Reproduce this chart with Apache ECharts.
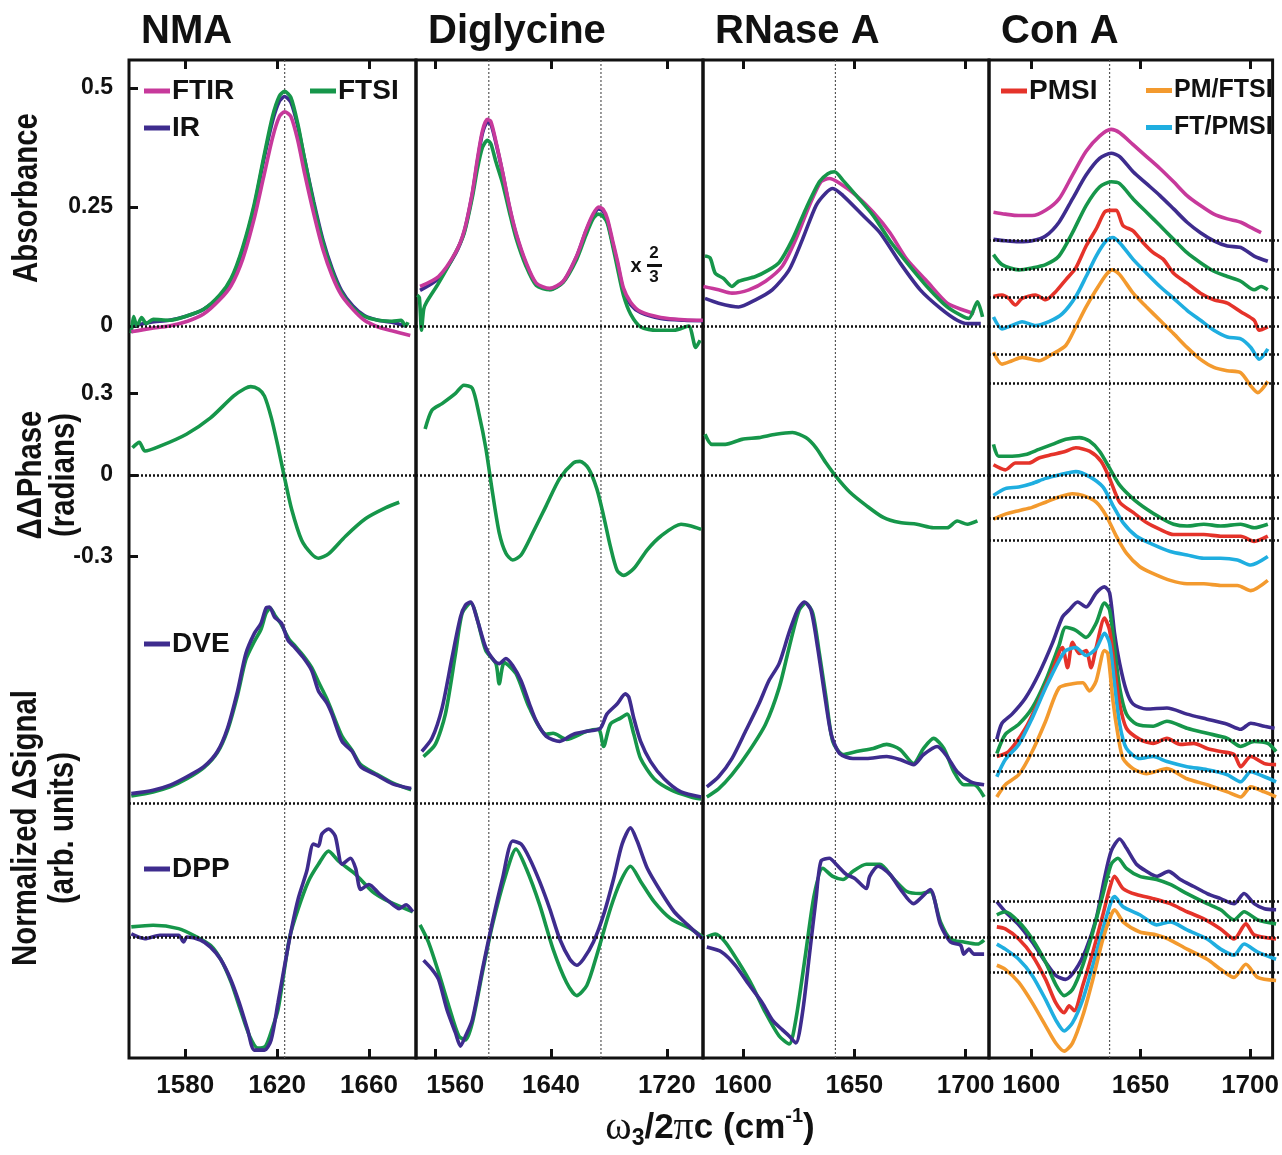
<!DOCTYPE html>
<html>
<head>
<meta charset="UTF-8" />
<title>Spectra comparison</title>
<script src="https://cdn.jsdelivr.net/npm/echarts@6.0.0/dist/echarts.min.js"></script>
<style>
  body { margin: 0; background: #fff; }
  #chart { width: 1282px; height: 1155px; }
</style>
</head>
<body>
<div id="chart"></div>
<script>
// ---------- data ----------
const columns = ['NMA', 'Diglycine', 'RNase A', 'Con A'];
const xRanges = [[1555.5, 1680.5], [1546.7, 1745], [1582, 1710.5], [1580.7, 1710.3]];
const xTicks = [[1580, 1620, 1660], [1560, 1640, 1720], [1600, 1650, 1700], [1600, 1650, 1700]];
const vLines = [[1623.3], [1597, 1674.5], [1641.5], [1635.8]];
const rowRanges = [[-0.15, 0.55], [-0.45, 0.5], [-0.2, 2.3], [-1.2, 1.2]];
const absTicks = [0, 0.25, 0.5];
const phaseTicks = [-0.3, 0, 0.3];

// NMA
const nmaAbsFtir = [[1556.5,-0.012],[1565,-0.005],[1573,0],[1581,0.01],[1588,0.025],[1595,0.055],[1600,0.085],[1605,0.14],[1610,0.225],[1614,0.31],[1618,0.395],[1621,0.44],[1623.3,0.45],[1626,0.44],[1629,0.39],[1632,0.32],[1636,0.235],[1640,0.16],[1644,0.105],[1648,0.065],[1653,0.035],[1658,0.012],[1664,-0.002],[1670,-0.01],[1678,-0.02]];
const nmaAbsIr = [[1557,0],[1565,0.008],[1573,0.012],[1580,0.02],[1588,0.035],[1595,0.062],[1600,0.097],[1605,0.16],[1610,0.25],[1614,0.345],[1618,0.43],[1621,0.472],[1623.3,0.482],[1626,0.47],[1629,0.42],[1632,0.35],[1636,0.26],[1640,0.18],[1644,0.12],[1648,0.075],[1653,0.042],[1658,0.022],[1664,0.012],[1670,0.008],[1676,0]];
const nmaAbsFtsi = [[1556.5,-0.015],[1557.5,0.02],[1559,0],[1561,0.018],[1563,0.005],[1566,0.014],[1573,0.012],[1580,0.02],[1588,0.035],[1595,0.065],[1600,0.1],[1605,0.165],[1610,0.255],[1614,0.35],[1618,0.44],[1621,0.483],[1623.3,0.493],[1626,0.48],[1629,0.425],[1632,0.35],[1636,0.255],[1640,0.175],[1644,0.115],[1648,0.07],[1653,0.038],[1658,0.02],[1664,0.012],[1670,0.01],[1674,0.012],[1676,0],[1677,0.008]];
const nmaPhase = [[1557,0.1],[1560,0.12],[1562.5,0.088],[1569,0.106],[1580.5,0.15],[1591,0.21],[1601,0.29],[1606,0.318],[1608.5,0.325],[1612,0.315],[1614.5,0.29],[1617.5,0.21],[1620.5,0.1],[1623.3,-0.012],[1626.3,-0.125],[1630.7,-0.24],[1635,-0.29],[1638,-0.306],[1642.4,-0.29],[1649.8,-0.225],[1658.6,-0.16],[1667.4,-0.12],[1673.2,-0.1]];
const nmaDve = [[1556.5,0.093],[1566,0.127],[1573.4,0.177],[1580.7,0.26],[1588.1,0.36],[1594,0.51],[1598.4,0.74],[1602.8,1.11],[1606.4,1.48],[1610.1,1.68],[1613,1.78],[1615.2,1.93],[1616.7,1.94],[1618.9,1.84],[1621.9,1.78],[1624.8,1.61],[1627.7,1.54],[1631.4,1.44],[1635.1,1.31],[1638,1.11],[1641.7,0.99],[1643.9,0.88],[1648.3,0.61],[1652.7,0.51],[1656.4,0.36],[1663,0.28],[1670.3,0.19],[1678.4,0.143]];
const nmaDveFtsi = [[1556.5,0.07],[1566,0.11],[1573.4,0.16],[1580.7,0.24],[1588.1,0.35],[1594,0.5],[1598.4,0.72],[1602.8,1.07],[1606.4,1.42],[1610.1,1.6],[1613,1.72],[1615.2,1.88],[1617,1.93],[1619,1.86],[1622,1.76],[1625,1.63],[1628,1.55],[1631.4,1.46],[1635.1,1.34],[1638,1.2],[1641.7,1.03],[1644,0.9],[1648.3,0.66],[1652.7,0.52],[1656.4,0.38],[1663,0.29],[1670.3,0.2],[1678.4,0.13]];
const nmaDpp = [[1556.5,0.03],[1562.4,-0.017],[1569,0.017],[1577.1,0.017],[1579.3,-0.05],[1580.7,0],[1586.6,-0.03],[1591,-0.1],[1595.4,-0.22],[1599.8,-0.42],[1603.5,-0.65],[1607.2,-0.92],[1610.1,-1.12],[1614.5,-1.12],[1617.4,-1.02],[1620.4,-0.65],[1623.3,-0.28],[1626.3,0.083],[1629.2,0.38],[1632.9,0.65],[1635.8,0.92],[1638,0.9],[1639.5,1.02],[1642.4,1.07],[1645.3,1.0],[1648.3,0.72],[1652,0.78],[1654.2,0.68],[1656.4,0.47],[1660,0.52],[1664.4,0.43],[1668.8,0.35],[1673.2,0.28],[1676.2,0.32],[1679.1,0.25]];
const nmaDppFtsi = [[1556.5,0.1],[1566,0.117],[1577.1,0.083],[1585.1,0],[1591,-0.083],[1595.4,-0.22],[1600,-0.45],[1604,-0.72],[1608,-0.98],[1611.6,-1.1],[1615,-1.08],[1618,-0.9],[1620.4,-0.72],[1623,-0.35],[1625.5,0],[1629.2,0.28],[1633.6,0.55],[1638,0.72],[1642.4,0.85],[1646.8,0.75],[1654.2,0.62],[1661.5,0.45],[1668.8,0.35],[1679.1,0.25]];

// Diglycine
const digAbsFtir = [[1549.5,0.083],[1562.3,0.104],[1574,0.154],[1580,0.2],[1585.6,0.28],[1589.1,0.35],[1592.6,0.41],[1596,0.434],[1598.4,0.43],[1601.9,0.388],[1606.5,0.324],[1611.2,0.253],[1615.8,0.196],[1622.8,0.133],[1629.8,0.09],[1639,0.079],[1648.4,0.094],[1657.7,0.147],[1664,0.2],[1669,0.235],[1673,0.25],[1676,0.245],[1679,0.225],[1682.5,0.18],[1686,0.135],[1690,0.08],[1695,0.05],[1702,0.03],[1715.8,0.018],[1732,0.013],[1744.9,0.012]];
const digAbsIr = [[1549.5,0.075],[1562.3,0.1],[1574,0.152],[1580,0.198],[1585.6,0.277],[1589.1,0.345],[1592.6,0.405],[1596,0.428],[1598.4,0.424],[1601.9,0.385],[1606.5,0.322],[1611.2,0.25],[1615.8,0.193],[1622.8,0.13],[1629.8,0.088],[1639,0.077],[1648.4,0.093],[1657.7,0.146],[1664,0.198],[1669,0.232],[1673,0.246],[1676,0.241],[1679,0.22],[1682.5,0.175],[1686,0.13],[1690,0.075],[1695,0.045],[1702,0.028],[1715.8,0.016],[1732,0.012],[1744.9,0.011]];
const digAbsFtsi = [[1547.5,0.065],[1549,0.06],[1550.5,-0.009],[1552,0.035],[1554,0.05],[1562.3,0.09],[1574,0.154],[1580,0.195],[1585.6,0.27],[1589.1,0.33],[1592.6,0.375],[1596,0.39],[1598.4,0.383],[1601.9,0.345],[1606.5,0.3],[1611.2,0.24],[1615.8,0.185],[1622.8,0.125],[1629.8,0.085],[1639,0.076],[1648.4,0.092],[1657.7,0.14],[1664,0.19],[1669,0.225],[1672.5,0.235],[1676,0.23],[1679,0.215],[1682.5,0.17],[1686,0.12],[1690,0.065],[1695,0.025],[1702,-0.002],[1713,-0.009],[1725,-0.009],[1735,0],[1740,-0.045],[1743,-0.03]];
const digPhase = [[1553,0.169],[1557.7,0.238],[1564.7,0.2625],[1574,0.3],[1579.8,0.33],[1585.6,0.319],[1590.2,0.225],[1594.9,0.1],[1599.5,-0.0625],[1604.2,-0.2125],[1608.8,-0.2875],[1613.5,-0.3125],[1619.3,-0.294],[1627.4,-0.2125],[1636.7,-0.1125],[1646,-0.0125],[1655.3,0.044],[1660,0.05],[1665.8,0.025],[1671.6,-0.05],[1676.3,-0.15],[1681,-0.2625],[1685.6,-0.35],[1690.2,-0.369],[1697.2,-0.344],[1706.5,-0.275],[1715.8,-0.225],[1729.8,-0.181],[1736.7,-0.1875],[1743.7,-0.2]];
const digDve = [[1550.7,0.51],[1557.7,0.64],[1564.7,0.94],[1571.6,1.44],[1577.4,1.84],[1580.9,1.96],[1584.4,1.99],[1589.1,1.81],[1594.9,1.54],[1600.7,1.41],[1604.2,1.38],[1608.8,1.43],[1613.5,1.36],[1619.3,1.21],[1625.1,0.98],[1629.8,0.81],[1636.7,0.66],[1646,0.61],[1655.3,0.68],[1664.7,0.71],[1674,0.74],[1678.6,0.88],[1685.6,0.98],[1691.4,1.08],[1693.7,1.05],[1697.2,0.84],[1701.9,0.61],[1708.8,0.41],[1718.1,0.24],[1729.8,0.11],[1743.7,0.06]];
const digDveFtsi = [[1551.9,0.46],[1560,0.58],[1567,0.88],[1574,1.48],[1578.6,1.88],[1584.4,1.98],[1594.9,1.51],[1601.9,1.38],[1604.2,1.18],[1607.7,1.39],[1615.8,1.28],[1625.1,0.94],[1636.7,0.68],[1641.4,0.69],[1650.7,0.63],[1664.7,0.71],[1672.8,0.73],[1676.3,0.56],[1681,0.78],[1688,0.84],[1692.6,0.88],[1697.2,0.68],[1701.9,0.44],[1711.2,0.24],[1722.8,0.13],[1736.7,0.06],[1743.7,0.04]];
const digDpp = [[1551.9,-0.23],[1557.7,-0.32],[1562.3,-0.42],[1568.1,-0.72],[1574,-0.95],[1577.4,-1.08],[1580.9,-0.98],[1585.6,-0.82],[1592.6,-0.32],[1599.5,0.15],[1606.5,0.58],[1613.5,0.95],[1619.3,0.92],[1625.1,0.78],[1632.1,0.55],[1639.1,0.28],[1646,-0.02],[1653,-0.22],[1657.7,-0.28],[1662.3,-0.22],[1669.3,-0.05],[1676.3,0.22],[1683.3,0.58],[1689.1,0.92],[1694.9,1.08],[1699.5,0.95],[1706.5,0.68],[1715.8,0.45],[1725.1,0.25],[1734.4,0.12],[1744.9,-0.02]];
const digDppFtsi = [[1549.5,0.12],[1555.3,-0.05],[1562.3,-0.35],[1569.3,-0.68],[1576.3,-0.98],[1580.9,-1.02],[1585.6,-0.85],[1592.6,-0.35],[1599.5,0.12],[1608.8,0.62],[1615.8,0.87],[1622.8,0.68],[1632.1,0.32],[1641.4,-0.12],[1650.7,-0.45],[1657.7,-0.58],[1664.7,-0.48],[1671.6,-0.18],[1681,0.28],[1688,0.55],[1694.9,0.7],[1701.9,0.55],[1711.2,0.35],[1722.8,0.18],[1736.7,0.08],[1744.9,0]];

// RNase A
const rnaAbsFtir = [[1582.2,0.083],[1589,0.076],[1595,0.069],[1602.6,0.076],[1610.1,0.094],[1617.7,0.126],[1623.7,0.182],[1629.8,0.253],[1635,0.303],[1638.8,0.31],[1643.4,0.3],[1650.9,0.274],[1658.5,0.239],[1666,0.196],[1673.6,0.14],[1682.6,0.094],[1691.7,0.048],[1699.2,0.033],[1703.8,0.026]];
const rnaAbsIr = [[1582.9,0.058],[1589,0.048],[1598,0.04],[1605.6,0.055],[1613.1,0.076],[1620.7,0.118],[1626.7,0.182],[1632.8,0.253],[1637.3,0.28],[1640.3,0.289],[1644.9,0.274],[1653.9,0.232],[1661.5,0.196],[1670.5,0.133],[1679.6,0.076],[1688.7,0.037],[1696.2,0.012],[1700.8,0.005],[1706.8,0.005]];
const rnaAbsFtsi = [[1582.9,0.147],[1585.2,0.143],[1587.5,0.111],[1591.2,0.1],[1595,0.083],[1598,0.094],[1605.6,0.104],[1611.6,0.118],[1616.2,0.133],[1622.2,0.182],[1628.2,0.246],[1634.3,0.303],[1638.1,0.32],[1641.1,0.324],[1644.9,0.306],[1650.9,0.274],[1658.5,0.232],[1666,0.179],[1673.6,0.133],[1682.6,0.083],[1691.7,0.04],[1699.2,0.019],[1701.5,0.016],[1705.3,0.051],[1707.6,0.019]];
const rnaPhase = [[1582.9,0.15],[1586,0.1125],[1592,0.1125],[1599.5,0.131],[1607.1,0.1375],[1614.7,0.15],[1622.2,0.156],[1628.2,0.1375],[1632.8,0.1],[1637.3,0.044],[1641.8,-0.006],[1647.9,-0.0625],[1655.4,-0.1125],[1663,-0.156],[1670.5,-0.175],[1678.1,-0.181],[1685.6,-0.194],[1691.7,-0.194],[1696.2,-0.169],[1700.8,-0.181],[1705.3,-0.169]];
const rnaDve = [[1583.7,0.16],[1589,0.26],[1595,0.44],[1601.1,0.71],[1607.1,0.98],[1611.6,1.21],[1616.2,1.38],[1620.7,1.69],[1624.5,1.91],[1627.5,1.99],[1630.5,1.91],[1633.5,1.54],[1636.6,1.08],[1639.6,0.68],[1643.4,0.49],[1649.4,0.44],[1655.4,0.44],[1664.5,0.46],[1670.5,0.43],[1676.6,0.38],[1681.1,0.48],[1687.2,0.56],[1691.7,0.46],[1696.2,0.31],[1702.3,0.21],[1708.3,0.18]];
const rnaDveFtsi = [[1583.7,0.06],[1589,0.14],[1595,0.28],[1602.6,0.51],[1610.1,0.78],[1616.2,1.14],[1620.7,1.54],[1625.2,1.91],[1628.2,1.98],[1631.3,1.88],[1634.3,1.48],[1637.3,1.04],[1640.3,0.61],[1644.9,0.48],[1650.9,0.51],[1658.5,0.54],[1664.5,0.58],[1670.5,0.53],[1676.6,0.39],[1681.1,0.54],[1685.6,0.64],[1690.2,0.54],[1694.7,0.31],[1699.2,0.18],[1703.8,0.18],[1708.3,0.06]];
const rnaDpp = [[1583.7,-0.1],[1590.5,-0.15],[1596.5,-0.28],[1602.6,-0.47],[1608.6,-0.65],[1613.1,-0.82],[1617.7,-0.92],[1620.7,-0.98],[1623.7,-1.05],[1626.7,-0.75],[1629.8,-0.18],[1632.8,0.38],[1635,0.75],[1638.8,0.78],[1641.8,0.72],[1646.4,0.62],[1650.2,0.58],[1655.4,0.48],[1656.9,0.6],[1660.7,0.7],[1666,0.62],[1670.5,0.48],[1676.6,0.33],[1679.6,0.38],[1684.1,0.47],[1688.7,0.12],[1693.2,-0.05],[1697.7,-0.08],[1699.2,-0.17],[1701.5,-0.12],[1703.8,-0.17],[1708.3,-0.17]];
const rnaDppFtsi = [[1583.7,0],[1587.5,0.03],[1592,-0.05],[1598,-0.25],[1604.1,-0.48],[1610.1,-0.75],[1616.2,-0.98],[1620.7,-1.06],[1623.7,-0.82],[1628.2,-0.15],[1632,0.42],[1635.8,0.68],[1640.3,0.6],[1644.9,0.57],[1649.4,0.65],[1655.4,0.72],[1661.5,0.72],[1667.5,0.58],[1673.6,0.45],[1679.6,0.43],[1684.1,0.45],[1688.7,0.15],[1693.2,-0.02],[1699.2,-0.05],[1705.3,-0.07],[1708.3,-0.03]];

// Con A (curves offset, dotted baselines below)
const conAbsFtir = [[1582.7,0.239],[1588,0.235],[1594,0.232],[1600,0.232],[1606,0.243],[1612,0.267],[1618,0.317],[1624.1,0.367],[1630.1,0.399],[1635.3,0.413],[1639.1,0.406],[1645.1,0.381],[1651.1,0.356],[1657.1,0.331],[1663.2,0.303],[1669.2,0.274],[1675.2,0.253],[1681.2,0.235],[1687.2,0.225],[1693.2,0.218],[1697.7,0.207],[1702.3,0.196]];
const conAbsIr = [[1582.7,0.182],[1588,0.179],[1594,0.177],[1600,0.179],[1606,0.189],[1612,0.218],[1618,0.267],[1624.1,0.317],[1630.1,0.352],[1635.3,0.363],[1639.1,0.356],[1645.1,0.324],[1651.1,0.299],[1657.1,0.274],[1663.2,0.246],[1669.2,0.218],[1675.2,0.196],[1681.2,0.179],[1687.2,0.168],[1693.2,0.165],[1699.2,0.147],[1705.3,0.136]];
const conAbsFtsi = [[1582.7,0.15],[1586.5,0.129],[1594,0.118],[1600,0.122],[1606,0.129],[1612,0.147],[1618,0.196],[1624.1,0.253],[1630.1,0.292],[1635.3,0.303],[1639.1,0.299],[1645.1,0.267],[1651.1,0.239],[1657.1,0.211],[1663.2,0.182],[1669.2,0.154],[1675.2,0.133],[1681.2,0.115],[1687.2,0.104],[1693.2,0.094],[1699.2,0.076],[1702.3,0.083],[1705.3,0.076]];
const conAbsPmsi = [[1582.7,0.062],[1586.5,0.065],[1589.5,0.058],[1592.5,0.044],[1595.5,0.058],[1601.5,0.065],[1606,0.055],[1610.5,0.072],[1615,0.097],[1619.5,0.122],[1624.1,0.168],[1628.6,0.204],[1632.3,0.239],[1634.6,0.243],[1637.6,0.243],[1640.6,0.211],[1645.1,0.2],[1649.6,0.175],[1654.1,0.154],[1658.6,0.14],[1663.2,0.111],[1669.2,0.09],[1675.2,0.069],[1681.2,0.055],[1687.2,0.048],[1693.2,0.03],[1699.2,0.012],[1701.5,-0.009],[1705.3,-0.002]];
const conAbsFtPm = [[1582.7,0.019],[1586.5,-0.006],[1591,0.001],[1595.5,0.009],[1601.5,0.001],[1607.5,0.009],[1613.5,0.026],[1619.5,0.062],[1624.1,0.104],[1628.6,0.147],[1633.1,0.179],[1636.1,0.186],[1639.1,0.175],[1645.1,0.14],[1651.1,0.111],[1657.1,0.083],[1663.2,0.058],[1669.2,0.033],[1675.2,0.012],[1681.2,-0.009],[1687.2,-0.023],[1693.2,-0.027],[1697.7,-0.045],[1701.5,-0.07],[1705.3,-0.048]];
const conAbsPmFt = [[1582.7,-0.055],[1586.5,-0.08],[1591,-0.073],[1595.5,-0.066],[1603,-0.073],[1609,-0.059],[1615,-0.041],[1619.5,-0.002],[1624.1,0.04],[1628.6,0.076],[1633.1,0.108],[1635.8,0.118],[1639.1,0.108],[1645.1,0.069],[1651.1,0.04],[1657.1,0.012],[1663.2,-0.016],[1669.2,-0.045],[1675.2,-0.07],[1681.2,-0.087],[1687.2,-0.094],[1693.2,-0.098],[1697.7,-0.126],[1700.8,-0.14],[1705.3,-0.116]];
const conPhaseFtsi = [[1582.7,0.1125],[1585,0.069],[1591,0.069],[1597,0.075],[1603,0.094],[1609,0.1125],[1615,0.131],[1621.1,0.1375],[1625.6,0.125],[1630.1,0.0875],[1634.6,0.025],[1639.1,-0.0375],[1645.1,-0.0875],[1651.1,-0.125],[1657.1,-0.156],[1663.2,-0.181],[1669.2,-0.1875],[1676.7,-0.181],[1684.2,-0.1875],[1693.2,-0.181],[1699.2,-0.194],[1705.3,-0.181]];
const conPhasePmsi = [[1582.7,0.0375],[1588,0.019],[1592.5,0.044],[1598.5,0.044],[1603,0.0625],[1609,0.075],[1615,0.0875],[1619.5,0.1],[1625.6,0.0875],[1630.8,0.05],[1634.6,-0.0125],[1639.1,-0.1],[1645.1,-0.1375],[1651.1,-0.175],[1657.1,-0.2],[1663.2,-0.219],[1669.2,-0.219],[1676.7,-0.219],[1684.2,-0.225],[1693.2,-0.225],[1699.2,-0.244],[1705.3,-0.225]];
const conPhaseFtPm = [[1582.7,-0.075],[1588,-0.05],[1594,-0.044],[1600,-0.031],[1606,-0.0125],[1612,0],[1619.5,0.0125],[1625.6,-0.006],[1631.6,-0.044],[1636.1,-0.1125],[1640.6,-0.175],[1646.6,-0.225],[1654.1,-0.256],[1661.7,-0.281],[1669.2,-0.294],[1676.7,-0.306],[1684.2,-0.306],[1691.7,-0.3125],[1697.7,-0.331],[1705.3,-0.3]];
const conPhasePmFt = [[1582.7,-0.1625],[1588,-0.144],[1594,-0.131],[1600,-0.119],[1606,-0.1],[1612,-0.081],[1618,-0.069],[1622.6,-0.075],[1628.6,-0.1],[1633.1,-0.15],[1637.6,-0.225],[1642.1,-0.2875],[1648.1,-0.3375],[1654.1,-0.3625],[1661.7,-0.3875],[1669.2,-0.4],[1676.7,-0.4],[1684.2,-0.406],[1691.7,-0.406],[1697.7,-0.425],[1705.3,-0.3875]];
const conDve = [[1584.2,0.63],[1586.5,0.79],[1591,0.88],[1597,1.04],[1603,1.28],[1609,1.58],[1613.5,1.84],[1616.5,1.91],[1620.3,1.99],[1624.1,1.94],[1628.6,2.08],[1632.3,2.14],[1634.6,2.08],[1636.8,1.68],[1639.1,1.38],[1642.1,1.11],[1645.1,0.98],[1651.1,0.93],[1660.2,0.94],[1669.2,0.88],[1678.2,0.83],[1687.2,0.78],[1693.2,0.73],[1697.7,0.79],[1703.8,0.76],[1708.3,0.74]];
const conDveFtsi = [[1584.2,0.49],[1588,0.68],[1594,0.78],[1600,0.94],[1606,1.21],[1612,1.56],[1615,1.74],[1619.5,1.71],[1624.1,1.64],[1628.6,1.78],[1632.3,1.98],[1634.6,1.91],[1636.8,1.54],[1639.1,1.14],[1642.1,0.88],[1646.6,0.78],[1654.1,0.76],[1660.2,0.81],[1669.2,0.74],[1678.2,0.69],[1687.2,0.64],[1693.2,0.56],[1699.2,0.61],[1705.3,0.59],[1709,0.51]];
const conDvePmsi = [[1584.2,0.46],[1589.5,0.51],[1597,0.74],[1603,1.01],[1609,1.31],[1613.5,1.54],[1615.8,1.34],[1618,1.59],[1621.1,1.48],[1624.1,1.51],[1626.3,1.34],[1628.6,1.54],[1632.3,1.83],[1634.6,1.71],[1636.8,1.34],[1639.1,0.98],[1642.1,0.74],[1648.1,0.63],[1654.1,0.59],[1660.2,0.64],[1666.2,0.58],[1672.2,0.59],[1678.2,0.54],[1684.2,0.51],[1690.2,0.48],[1693.2,0.36],[1697.7,0.46],[1703.8,0.39],[1709,0.38]];
const conDveFtPm = [[1584.2,0.26],[1588,0.43],[1594,0.58],[1600,0.84],[1606,1.14],[1612,1.41],[1615,1.51],[1619.5,1.54],[1624.1,1.46],[1628.6,1.53],[1632.3,1.68],[1634.6,1.58],[1636.8,1.18],[1639.1,0.78],[1642.1,0.54],[1648.1,0.44],[1654.1,0.46],[1660.2,0.41],[1669.2,0.36],[1678.2,0.33],[1687.2,0.28],[1693.2,0.21],[1697.7,0.31],[1703.8,0.26],[1709,0.21]];
const conDvePmFt = [[1584.2,0.06],[1588,0.18],[1594,0.28],[1600,0.51],[1606,0.81],[1612,1.14],[1618,1.18],[1622.6,1.19],[1625.6,1.11],[1628.6,1.21],[1632.3,1.51],[1633.8,1.48],[1636.1,1.01],[1638.3,0.68],[1640.6,0.44],[1645.1,0.34],[1651.1,0.29],[1660.2,0.34],[1669.2,0.24],[1678.2,0.18],[1687.2,0.11],[1693.2,0.06],[1697.7,0.16],[1703.8,0.11],[1709,0.06]];
const conDpp = [[1584.2,0.35],[1588,0.25],[1594,0.12],[1600,-0.05],[1606,-0.25],[1610.5,-0.38],[1615,-0.42],[1619.5,-0.32],[1624.1,-0.12],[1628.6,0.18],[1632.3,0.58],[1635.3,0.85],[1639.1,0.97],[1642.1,0.88],[1646.6,0.72],[1651.1,0.65],[1655.6,0.6],[1660.9,0.65],[1666.2,0.57],[1672.2,0.5],[1678.2,0.43],[1684.2,0.38],[1690.2,0.33],[1694.7,0.43],[1699.2,0.33],[1703.8,0.28],[1709,0.27]];
const conDppFtsi = [[1584.2,0.22],[1588,0.25],[1594,0.15],[1600,-0.02],[1606,-0.25],[1610.5,-0.47],[1614.3,-0.58],[1618,-0.52],[1622.6,-0.28],[1627.1,0.05],[1631.6,0.42],[1635.3,0.72],[1638.3,0.78],[1642.1,0.68],[1648.1,0.6],[1655.6,0.57],[1661.7,0.52],[1669.2,0.43],[1678.2,0.33],[1684.2,0.27],[1690.2,0.17],[1694.7,0.25],[1700.8,0.17],[1709,0.13]];
const conDppPmsi = [[1584.2,0.1],[1588,0.08],[1594,-0.02],[1600,-0.18],[1606,-0.42],[1610.5,-0.65],[1614.3,-0.75],[1616.5,-0.68],[1618.8,-0.73],[1622.6,-0.48],[1627.1,-0.15],[1631.6,0.22],[1634.6,0.48],[1636.8,0.6],[1640.6,0.48],[1646.6,0.42],[1654.1,0.38],[1661.7,0.33],[1669.2,0.25],[1676.7,0.18],[1684.2,0.08],[1690.2,-0.02],[1695.5,0.13],[1699.2,0.02],[1709,-0.02]];
const conDppFtPm = [[1584.2,-0.07],[1588,-0.12],[1594,-0.22],[1600,-0.38],[1606,-0.62],[1610.5,-0.82],[1614.3,-0.93],[1618,-0.85],[1622.6,-0.62],[1627.1,-0.28],[1631.6,0.08],[1635.3,0.35],[1636.8,0.4],[1640.6,0.3],[1648.1,0.22],[1655.6,0.12],[1661.7,0.15],[1669.2,0.07],[1678.2,-0.02],[1684.2,-0.12],[1690.2,-0.18],[1694.7,-0.07],[1700.8,-0.15],[1709,-0.22]];
const conDppPmFt = [[1584.2,-0.28],[1588,-0.32],[1594,-0.45],[1600,-0.65],[1606,-0.88],[1610.5,-1.05],[1614.3,-1.13],[1618,-1.05],[1622.6,-0.78],[1627.1,-0.42],[1631.6,-0.02],[1635.3,0.22],[1636.8,0.27],[1640.6,0.15],[1648.1,0.05],[1655.6,0.02],[1660.9,-0.02],[1669.2,-0.12],[1678.2,-0.22],[1684.2,-0.32],[1690.2,-0.4],[1695.5,-0.27],[1700.8,-0.4],[1709,-0.43]];

// dotted baselines
const conAbsBase = [0.18, 0.12, 0.06, 0, -0.06, -0.12];
const conPhaseBase = [0, -0.08, -0.16, -0.24];
const conDveBase = [0.62, 0.465, 0.31, 0.155, 0];
const conDppBase = [0.35, 0.175, 0, -0.175, -0.355];

const colors = {
  'FTIR': '#C7399B', 'IR': '#3E2C8E', 'DVE': '#3E2C8E', 'DPP': '#3E2C8E',
  'FTSI': '#16964A', 'PMSI': '#E5332A', 'PM/FTSI': '#F39A2E', 'FT/PMSI': '#1FAEE0'
};

// [col, row, baselines, [name, data]...]
const panels = [
  [0, 0, [0], [['IR', nmaAbsIr], ['FTSI', nmaAbsFtsi], ['FTIR', nmaAbsFtir]]],
  [0, 1, [0], [['FTSI', nmaPhase]]],
  [0, 2, [0], [['FTSI', nmaDveFtsi], ['DVE', nmaDve]]],
  [0, 3, [0], [['FTSI', nmaDppFtsi], ['DPP', nmaDpp]]],
  [1, 0, [0], [['IR', digAbsIr], ['FTSI', digAbsFtsi], ['FTIR', digAbsFtir]]],
  [1, 1, [0], [['FTSI', digPhase]]],
  [1, 2, [0], [['FTSI', digDveFtsi], ['DVE', digDve]]],
  [1, 3, [0], [['FTSI', digDppFtsi], ['DPP', digDpp]]],
  [2, 0, [0], [['IR', rnaAbsIr], ['FTIR', rnaAbsFtir], ['FTSI', rnaAbsFtsi]]],
  [2, 1, [0], [['FTSI', rnaPhase]]],
  [2, 2, [0], [['FTSI', rnaDveFtsi], ['DVE', rnaDve]]],
  [2, 3, [0], [['FTSI', rnaDppFtsi], ['DPP', rnaDpp]]],
  [3, 0, conAbsBase, [['FTIR', conAbsFtir], ['IR', conAbsIr], ['FTSI', conAbsFtsi], ['PMSI', conAbsPmsi], ['FT/PMSI', conAbsFtPm], ['PM/FTSI', conAbsPmFt]]],
  [3, 1, conPhaseBase, [['FTSI', conPhaseFtsi], ['PMSI', conPhasePmsi], ['FT/PMSI', conPhaseFtPm], ['PM/FTSI', conPhasePmFt]]],
  [3, 2, conDveBase, [['DVE', conDve], ['FTSI', conDveFtsi], ['PMSI', conDvePmsi], ['FT/PMSI', conDveFtPm], ['PM/FTSI', conDvePmFt]]],
  [3, 3, conDppBase, [['DPP', conDpp], ['FTSI', conDppFtsi], ['PMSI', conDppPmsi], ['FT/PMSI', conDppFtPm], ['PM/FTSI', conDppPmFt]]]
];

// ---------- layout ----------
const colLeft = [129, 416, 703, 989];
const colRight = [416, 703, 989, 1279];
const frameTop = 60, frameBottom = 1058;
const rowZero = [326, 475, 803, 937];   // pixel of y=0 per row
const rowScale = [476, 272, 101, 101];  // px per unit per row
const sans = "'Liberation Sans', Arial, sans-serif";
const ink = '#111';

const grid = [], xAxis = [], yAxis = [], series = [];

// column frames with tick marks
for (let c = 0; c < 4; c++) {
  grid.push({ left: colLeft[c], top: frameTop, width: colRight[c] - colLeft[c], height: frameBottom - frameTop,
    show: true, borderColor: ink, borderWidth: 3, backgroundColor: 'transparent' });
}
for (let c = 0; c < 4; c++) {
  xAxis.push({
    type: 'value', gridIndex: c, min: xRanges[c][0], max: xRanges[c][1], position: 'bottom',
    splitLine: { show: false }, axisLine: { show: false },
    axisTick: { inside: true, length: 9, lineStyle: { width: 3, color: ink }, customValues: xTicks[c] },
    axisLabel: {
      customValues: xTicks[c], margin: 15, color: ink, fontSize: 26, fontWeight: 'bold', fontFamily: sans,
      formatter: v => (c === 1 && v === 1560) ? '{sh|1560}' : String(v),
      rich: { sh: { padding: [0, 0, 0, 40], fontSize: 26, fontWeight: 'bold', fontFamily: sans, color: ink } }
    }
  });
}
for (let c = 0; c < 4; c++) {
  xAxis.push({
    type: 'value', gridIndex: c, min: xRanges[c][0], max: xRanges[c][1], position: 'top',
    splitLine: { show: false }, axisLine: { show: false }, axisLabel: { show: false },
    axisTick: { inside: true, length: 9, lineStyle: { width: 3, color: ink }, customValues: xTicks[c] }
  });
  yAxis.push({ type: 'value', gridIndex: c, min: 0, max: 1, show: false });
  vLines[c].forEach(v => series.push({
    type: 'line', xAxisIndex: c, yAxisIndex: c, data: [[v, 0], [v, 1]], symbol: 'none', silent: true, z: 1,
    lineStyle: { color: '#555', width: 1.2, type: [2, 2] }
  }));
}

// panels
panels.forEach(([c, r, base, lines]) => {
  const [ymin, ymax] = rowRanges[r];
  const gi = grid.length;
  grid.push({ left: colLeft[c], width: colRight[c] - colLeft[c],
    top: rowZero[r] - ymax * rowScale[r], height: (ymax - ymin) * rowScale[r] });
  const xi = xAxis.length, yi = yAxis.length;
  xAxis.push({ type: 'value', gridIndex: gi, min: xRanges[c][0], max: xRanges[c][1], show: false });
  const ticks = c === 0 && r === 0 ? absTicks : (c === 0 && r === 1 ? phaseTicks : null);
  yAxis.push({
    type: 'value', gridIndex: gi, min: ymin, max: ymax, show: !!ticks,
    splitLine: { show: false }, axisLine: { show: false },
    axisTick: { show: !!ticks, inside: true, length: 9, lineStyle: { width: 3, color: ink }, customValues: ticks || [] },
    axisLabel: { show: !!ticks, customValues: ticks || [], margin: 16, color: ink, fontSize: 23, fontWeight: 'bold', fontFamily: sans }
  });
  lines.forEach(([name, data], k) => {
    const s = {
      type: 'line', name, xAxisIndex: xi, yAxisIndex: yi, data, showSymbol: false, symbol: 'none',
      smooth: 0.25, clip: false, lineStyle: { color: colors[name], width: 3.6 }, itemStyle: { color: colors[name] }, z: 3
    };
    if (k === 0) {
      s.markLine = { silent: true, symbol: 'none', label: { show: false }, animation: false,
        lineStyle: { color: ink, width: 2.5, type: [2, 2] }, data: base.map(v => ({ yAxis: v })) };
    }
    series.push(s);
  });
});

// legends: [name, left, top, fontSize]
const legendItems = [
  ['FTIR', 144, 77, 28], ['IR', 144, 114, 28], ['FTSI', 310, 77, 28], ['DVE', 144, 630, 28], ['DPP', 144, 855, 28],
  ['PMSI', 1001, 77, 28], ['PM/FTSI', 1146, 78, 25], ['FT/PMSI', 1146, 115, 25]
];
const legend = legendItems.map(([name, left, top, fs]) => ({
  data: [name], left, top, padding: 0, icon: 'rect', itemWidth: 26, itemHeight: 5, selectedMode: false,
  textStyle: { fontSize: fs, fontWeight: 'bold', fontFamily: sans, color: ink, padding: [0, 0, 0, -3] }
}));

const yTitle = (text, x, y) => ({
  type: 'text', x, y, rotation: Math.PI / 2, scaleX: 0.84,
  style: { text, fontSize: 35, fontWeight: 'bold', fontFamily: sans, fill: ink, align: 'center', verticalAlign: 'middle' }
});
const titleStyle = { fontSize: 40, fontWeight: 'bold', fontFamily: sans, fill: ink };
const graphic = [
  ...columns.map((t, c) => ({ type: 'text', left: colLeft[c] + 12, top: 12, style: Object.assign({ text: t }, titleStyle) })),
  yTitle('Absorbance', 27, 198),
  yTitle('\u0394\u0394Phase', 31, 475),
  yTitle('(radians)', 64, 475),
  yTitle('Normalized \u0394Signal', 26, 828),
  yTitle('(arb. units)', 63, 828),
  { type: 'text', x: 710, y: 1128,
    style: {
      text: '{g|\u03C9}{sub|3}{n|/2}{g|\u03C0}{n|c (cm}{sup|-1}{n|)}', align: 'center', verticalAlign: 'middle',
      rich: {
        g: { fontSize: 40, fontFamily: "'Liberation Serif', serif", fill: ink, lineHeight: 44 },
        n: { fontSize: 35, fontWeight: 'bold', fontFamily: sans, fill: ink, lineHeight: 44 },
        sub: { fontSize: 23, fontWeight: 'bold', fontFamily: sans, fill: ink, lineHeight: 20, verticalAlign: 'bottom' },
        sup: { fontSize: 20, fontWeight: 'bold', fontFamily: sans, fill: ink, lineHeight: 18, verticalAlign: 'top' }
      }
    } },
  // x 2/3 scale note in the Diglycine absorbance panel
  { type: 'text', x: 636, y: 266, style: { text: 'x', fontSize: 20, fontWeight: 'bold', fontFamily: sans, fill: ink, align: 'center', verticalAlign: 'middle' } },
  { type: 'text', x: 654, y: 253, style: { text: '2', fontSize: 17, fontWeight: 'bold', fontFamily: sans, fill: ink, align: 'center', verticalAlign: 'middle' } },
  { type: 'rect', shape: { x: 647, y: 264, width: 15, height: 3 }, style: { fill: ink } },
  { type: 'text', x: 654, y: 277, style: { text: '3', fontSize: 17, fontWeight: 'bold', fontFamily: sans, fill: ink, align: 'center', verticalAlign: 'middle' } }
];

const chart = echarts.init(document.getElementById('chart'));
chart.setOption({
  backgroundColor: '#fff',
  animation: false,
  grid, xAxis, yAxis, series, legend, graphic
});
</script>
</body>
</html>
